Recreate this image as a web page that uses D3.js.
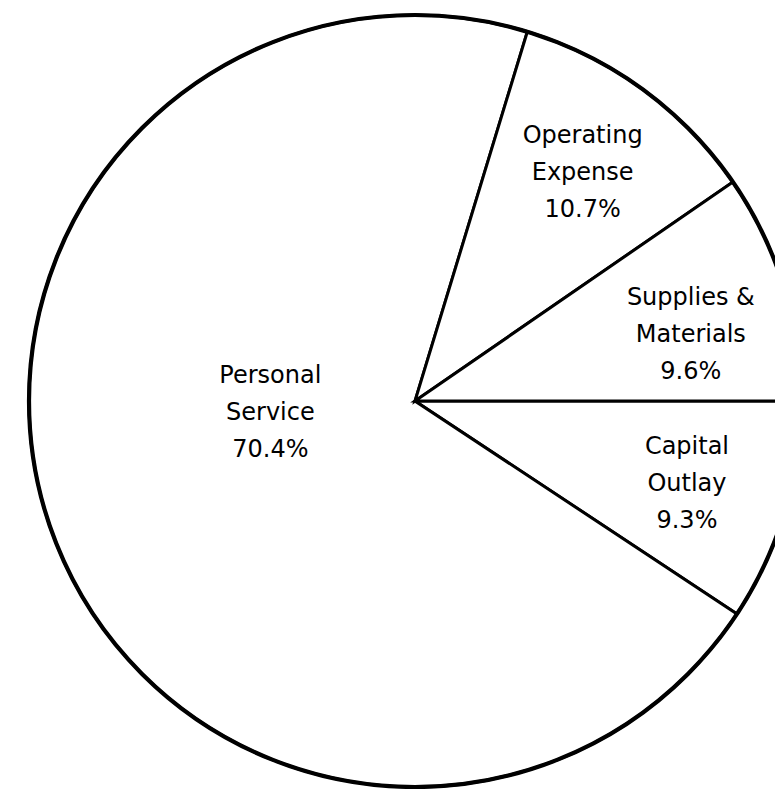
<!DOCTYPE html>
<html>
<head>
<meta charset="utf-8">
<script src="https://cdn.jsdelivr.net/npm/d3@7"></script>
<style>
  html, body { margin: 0; padding: 0; background: #fff; overflow: hidden; }
</style>
</head>
<body>
<div id="chart"></div>
<script>
// Slices in drawing order, clockwise from 3 o'clock
const categories = ["Capital\nOutlay", "Personal\nService", "Operating\nExpense", "Supplies &\nMaterials"];
const shares = [9.3, 70.4, 10.7, 9.6];
const shareLabels = ["9.3%", "70.4%", "10.7%", "9.6%"];

function renderChart() {
  const width = 775, height = 789;
  const cx = 415, cy = 401, radius = 386;

  const svg = d3.select("#chart")
    .append("svg")
    .attr("width", width)
    .attr("height", height)
    .append("g")
    .attr("transform", `translate(${cx}, ${cy})`);

  // Pie layout, starting at the horizontal radius on the right
  const pie = d3.pie()
    .sort(null)
    .value(d => d)
    .startAngle(Math.PI / 2)
    .endAngle(Math.PI / 2 + 2 * Math.PI);

  const arcs = pie(shares);

  const arc = d3.arc()
    .innerRadius(0)
    .outerRadius(radius);

  // Slices with thin radius lines
  svg.selectAll(".slice")
    .data(arcs)
    .enter().append("path")
    .attr("class", "slice")
    .attr("d", arc)
    .attr("fill", "#fff")
    .attr("stroke", "#000")
    .attr("stroke-width", 3)
    .attr("stroke-linejoin", "miter");

  // Heavier outer rim
  svg.append("circle")
    .attr("r", radius)
    .attr("fill", "none")
    .attr("stroke", "#000")
    .attr("stroke-width", 4.2);

  // Label anchor: small slices near the rim, big slice to the left of centre
  const deg = Math.PI / 180;
  function labelPos(d, i) {
    if (i === 1) return d3.pointRadial(266 * deg, 145);
    let mid = (d.startAngle + d.endAngle) / 2;
    if (i === 3) mid += 3.5 * deg;
    return d3.pointRadial(mid, 284);
  }

  const lineH = 37;
  svg.selectAll(".label")
    .data(arcs)
    .enter().append("text")
    .attr("class", "label")
    .attr("text-anchor", "middle")
    .style("font-family", "'DejaVu Sans', sans-serif")
    .style("font-size", "24px")
    .style("fill", "#000")
    .each(function (d, i) {
      const [x, y] = labelPos(d, i);
      const lines = categories[i].split("\n").concat(shareLabels[i]);
      const top = y - lineH * (lines.length - 1) / 2;
      d3.select(this).selectAll("tspan")
        .data(lines)
        .enter().append("tspan")
        .attr("x", x)
        .attr("y", (t, k) => top + k * lineH)
        .attr("dy", "0.35em")
        .text(t => t);
    });
}

document.addEventListener('DOMContentLoaded', renderChart);
</script>
</body>
</html>
